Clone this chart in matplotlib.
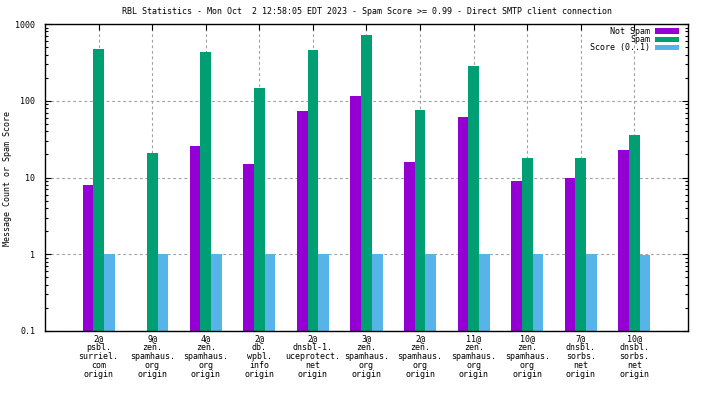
import matplotlib
matplotlib.use('Agg')
import matplotlib.pyplot as plt
import numpy as np
from matplotlib.ticker import LogLocator, FixedLocator, NullFormatter, FixedFormatter
from matplotlib.patches import Rectangle

categories = [
    "2@\npsbl.\nsurriel.\ncom\norigin",
    "9@\nzen.\nspamhaus.\norg\norigin",
    "4@\nzen.\nspamhaus.\norg\norigin",
    "2@\ndb.\nwpbl.\ninfo\norigin",
    "2@\ndnsbl-1.\nuceprotect.\nnet\norigin",
    "3@\nzen.\nspamhaus.\norg\norigin",
    "2@\nzen.\nspamhaus.\norg\norigin",
    "11@\nzen.\nspamhaus.\norg\norigin",
    "10@\nzen.\nspamhaus.\norg\norigin",
    "7@\ndnsbl.\nsorbs.\nnet\norigin",
    "10@\ndnsbl.\nsorbs.\nnet\norigin",
]
not_spam = [8, 0, 26, 15, 74, 116, 16, 62, 9, 10, 23]
spam = [475, 21, 434, 147, 461, 724, 76, 285, 18, 18, 36]
score = [1, 1, 1, 1, 1, 1, 1, 1, 1, 1, 0.99]
series_names = ["Not Spam", "Spam", "Score (0..1)"]
colors = ["#9400d3", "#009e73", "#56b4e9"]
y_ticks = [0.1, 1, 10, 100, 1000]
y_tick_labels = ["0.1", "1", "10", "100", "1000"]
title = "RBL Statistics - Mon Oct  2 12:58:05 EDT 2023 - Spam Score >= 0.99 - Direct SMTP client connection"
ylabel = "Message Count or Spam Score"

plt.rcParams['font.family'] = ['DejaVu Sans Mono']
FS = 6.0

W, H = 704, 396
fig = plt.figure(figsize=(W / 100, H / 100), dpi=100)
L, R, T, B = 45, 688, 24, 331
ax = fig.add_axes([L / W, 1 - B / H, (R - L) / W, (B - T) / H])

x = np.arange(len(categories))
bw = 0.2
for i, (vals, c) in enumerate(zip([not_spam, spam, score], colors)):
    v = np.array(vals, dtype=float)
    v[v <= 0] = np.nan
    ax.bar(x + (i - 1) * bw, v, width=bw, color=c, linewidth=0, zorder=3)

ax.set_yscale('log')
ax.set_ylim(0.1, 1000)
ax.set_xlim(-1, len(categories))
ax.yaxis.set_major_locator(FixedLocator(y_ticks))
ax.yaxis.set_major_formatter(FixedFormatter(y_tick_labels))
ax.yaxis.set_minor_locator(LogLocator(base=10, subs=np.arange(2, 10)))
ax.yaxis.set_minor_formatter(NullFormatter())
ax.set_xticks(x)
ax.set_xticklabels(categories, fontsize=FS, linespacing=1.0)

ax.tick_params(axis='both', which='major', direction='in', length=4.5, width=0.8,
               top=True, right=True, labelsize=FS, pad=2, color='black')
ax.tick_params(axis='y', which='minor', direction='in', length=2.2, width=0.8, right=True)
ax.tick_params(axis='y', which='major', pad=7)

ax.grid(True, which='major', color='#a0a0a0', linestyle=(0, (2.5, 2.5)), linewidth=0.8, zorder=0)
ax.set_axisbelow(True)
for s in ax.spines.values():
    s.set_linewidth(1.0)
    s.set_zorder(5)

fig.text((L + R) / 2 / W, 1 - 12 / H, title, ha='center', va='center', fontsize=FS)
fig.text(8 / W, 1 - 178 / H, ylabel, rotation=90, ha='center', va='center', fontsize=FS)

# legend (gnuplot-style: right-aligned text then sample box)
for k, (name, c) in enumerate(zip(series_names, colors)):
    yc = 31 + 8.2 * k
    fig.text(650 / W, 1 - yc / H, name, ha='right', va='center', fontsize=FS)
    fig.patches.append(Rectangle((655 / W, 1 - (yc + 2.5) / H), 24 / W, 5 / H,
                                 transform=fig.transFigure, color=c, linewidth=0))

fig.savefig('out.png', dpi=100)
